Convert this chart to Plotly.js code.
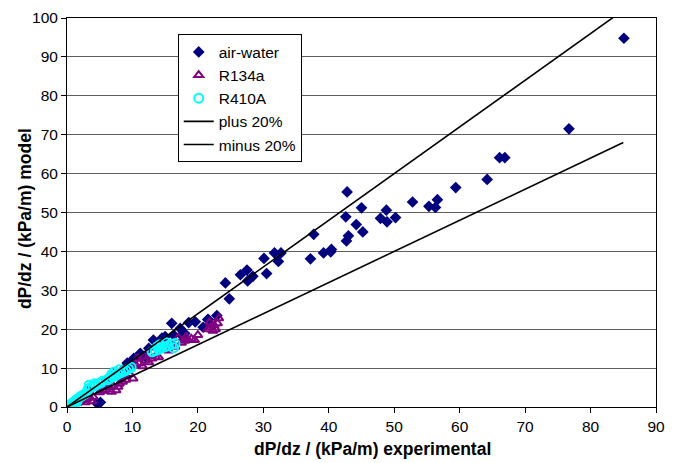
<!DOCTYPE html>
<html>
<head>
<meta charset="utf-8">
<script src="https://cdn.plot.ly/plotly-3.0.1.min.js"></script>
<style>html,body{margin:0;padding:0;background:#fff;}#chart{width:675px;height:463px;}</style>
</head>
<body>
<div id="chart"></div>
<script>
// air-water data (experimental, model)
const airX = [4.6,5.1,2.0,3.5,6.0,7.5,8.5,9.2,9.9,9.4,10.2,11.2,12.0,12.5,13.2,15.0,16.3,17.5,16.0,17.3,18.6,19.6,14.5,18.0,21.6,22.9,22.0,20.8,21.5,
  24.2,24.8,26.5,27.5,27.6,28.4,30.5,30.1,31.7,32.7,32.3,37.7,37.2,39.2,40.3,40.4,42.8,45.0,42.6,44.2,45.2,43.0,42.7,48.8,47.9,48.9,50.2,52.8,55.3,56.3,56.6,59.4,64.2,66.1,66.9,76.7,85.1];
const airY = [0.9,1.2,2.5,4.5,7.0,9.0,9.5,11.3,11.6,10.4,12.5,13.8,12.9,15.1,17.2,18.1,18.5,18.5,21.5,20.2,21.7,21.9,17.7,18.9,22.5,23.5,21.3,20.5,22.5,
  31.9,27.8,34.0,35.2,32.4,33.6,34.3,38.2,39.6,39.6,37.4,44.4,38.1,39.6,39.9,40.5,55.3,51.2,48.9,46.9,45.0,44.0,42.7,50.6,48.5,47.6,48.7,52.7,51.6,51.3,53.3,56.4,58.5,64.1,64.1,71.5,94.8];

// R134a data
const r134X = [0.5,1.0,1.5,2.0,2.5,3.0,3.5,4.0,2.8,3.8,
  5.0,5.5,6.0,6.5,7.0,7.5,8.0,8.5,9.0,6.8,7.8,10.1,9.5,8.8,
  10.5,11.0,11.5,12.0,12.5,13.0,13.5,14.0,11.8,10.8,15.0,15.5,16.0,16.5,
  17.5,18.0,18.5,19.0,19.5,18.2,17.0,20.0,
  21.5,22.0,22.5,23.0,22.3,21.8,23.2,22.7];
const r134Y = [0.3,0.6,1.0,1.3,1.8,2.0,2.4,2.6,1.2,1.5,
  3.8,4.2,4.5,5.0,5.5,4.3,6.0,6.5,7.0,3.9,5.2,7.3,8.5,8.0,
  10.8,11.2,10.5,12.0,11.5,12.5,13.0,12.8,13.0,12.5,15.0,14.5,16.0,15.5,
  16.5,17.0,17.2,17.5,17.2,18.0,17.8,18.5,
  20.0,20.5,21.0,21.5,19.6,21.8,22.8,20.0];

// R410A data
const r410X = [0.2,0.4,0.6,0.8,1.0,1.2,1.4,1.6,1.8,2.0,2.2,2.5,2.8,0.5,1.0,1.5,
  3.2,3.6,4.0,4.4,4.8,5.2,5.5,3.4,4.2,
  6.2,6.6,7.0,7.4,7.8,8.2,8.6,9.0,9.4,9.8,7.2,8.0,6.8,
  13.0,13.5,14.0,14.5,15.0,15.5,16.0,16.5,14.2,15.2,13.8,16.3];
const r410Y = [0.2,0.5,0.7,0.9,1.2,1.5,1.8,2.0,2.3,2.6,2.8,3.1,3.4,0.2,0.6,1.3,
  4.5,5.0,5.3,5.6,6.0,6.3,6.7,5.6,6.0,
  7.0,7.4,7.8,8.1,8.5,8.8,9.1,9.4,9.8,10.2,9.0,9.6,8.3,
  14.2,14.5,14.8,15.2,15.5,15.8,16.1,16.3,16.0,16.5,15.5,15.2];

// reference lines
const plusX = [0, 85], plusY = [0, 102];
const minusX = [0, 85], minusY = [0, 68];

const xTitle = 'dP/dz / (kPa/m) experimental';
const yTitle = 'dP/dz / (kPa/m) model';

const traces = [
  {x: airX, y: airY, name: 'air-water', mode: 'markers', type: 'scatter',
   marker: {symbol: 'diamond', size: 9, color: '#00007f'}},
  {x: r134X, y: r134Y, name: 'R134a', mode: 'markers', type: 'scatter',
   marker: {symbol: 'triangle-up-open', size: 8, color: '#800080', line: {width: 2, color: '#800080'}}},
  {x: r410X, y: r410Y, name: 'R410A', mode: 'markers', type: 'scatter',
   marker: {symbol: 'circle-open', size: 9, color: '#00ffff', line: {width: 2, color: '#00ffff'}}},
  {x: plusX, y: plusY, name: 'plus 20%', mode: 'lines', type: 'scatter',
   line: {color: '#000', width: 1.6}},
  {x: minusX, y: minusY, name: 'minus 20%', mode: 'lines', type: 'scatter',
   line: {color: '#000', width: 1.6}}
];

const layout = {
  width: 675, height: 463,
  margin: {l: 67, r: 19, t: 18, b: 56},
  paper_bgcolor: '#fff', plot_bgcolor: '#fff',
  font: {family: 'Liberation Sans, Arial, sans-serif', size: 15, color: '#000'},
  showlegend: true,
  legend: {x: 0.188, y: 0.958, xanchor: 'left', yanchor: 'top',
    bgcolor: '#fff', bordercolor: '#000', borderwidth: 1,
    font: {size: 15.5}, tracegroupgap: 0},
  xaxis: {range: [0, 90], dtick: 10, tick0: 0, showgrid: false, zeroline: false,
    showline: true, linecolor: '#000', linewidth: 1, mirror: true,
    ticks: 'outside', ticklen: 5, tickcolor: '#000', tickfont: {size: 15.5}},
  yaxis: {range: [0, 100], dtick: 10, tick0: 0, showgrid: true, gridcolor: '#606060', gridwidth: 1,
    zeroline: false, showline: true, linecolor: '#000', linewidth: 1, mirror: true,
    ticks: 'outside', ticklen: 5, tickcolor: '#000', tickfont: {size: 15.5}},
  annotations: [
    {text: '<b>' + xTitle + '</b>', xref: 'paper', yref: 'paper', x: 0.5195, y: -0.108,
     xanchor: 'center', yanchor: 'middle', showarrow: false, font: {size: 17.5}},
    {text: '<b>' + yTitle + '</b>', xref: 'paper', yref: 'paper', x: -0.0713, y: 0.483,
     xanchor: 'center', yanchor: 'middle', showarrow: false, textangle: -90, font: {size: 17.5}}
  ]
};

Plotly.newPlot('chart', traces, layout, {displayModeBar: false, staticPlot: true});
</script>
</body>
</html>
